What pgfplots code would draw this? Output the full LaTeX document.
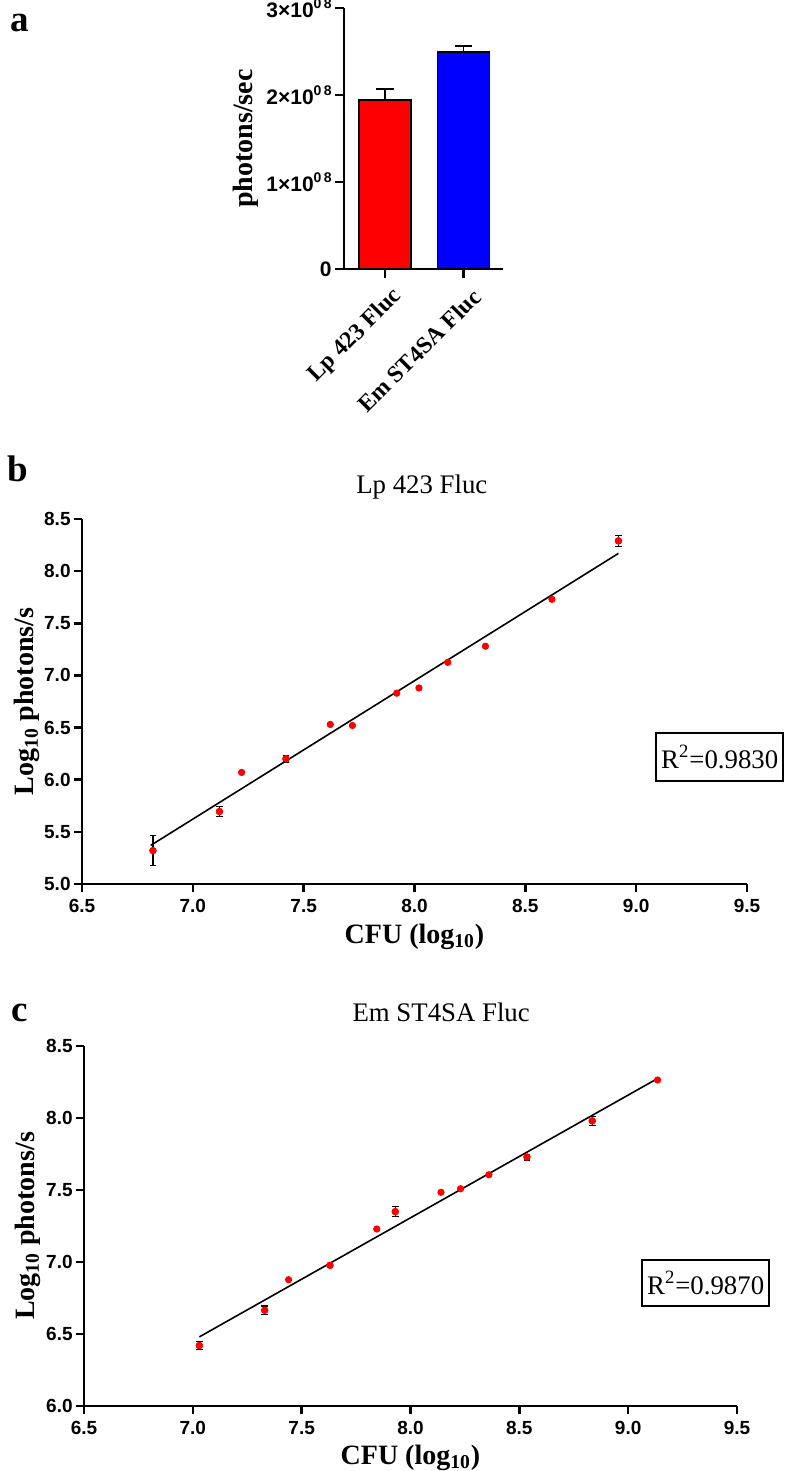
\documentclass[border=0pt]{standalone}
\usepackage{fontspec}
\setmainfont{Liberation Serif}
\newfontfamily\arial{Liberation Sans}
\usepackage{pgfplots}
\pgfplotsset{compat=1.18}
\newcommand{\sci}[1]{#1×10\raisebox{0.85ex}{\fontsize{7}{7}\selectfont 0\,8}}
\newcommand{\labfont}{\bfseries\fontsize{14}{16}\selectfont}
\pgfplotsset{
  sciaxis/.style={
    scale only axis, anchor=south west,
    axis lines=left, axis line style={-, line width=1.3pt},
    xmin=6.5, xmax=9.5,
    xtick={6.5,7.0,7.5,8.0,8.5,9.0,9.5},
    tick align=outside, major tick length=4pt,
    tick style={line width=1.3pt, black},
    tick label style={font=\arial\bfseries\fontsize{9.5}{11}\selectfont},
    xticklabel style={/pgf/number format/fixed, /pgf/number format/fixed zerofill, /pgf/number format/precision=1, /pgf/number format/assume math mode=true},
    yticklabel style={/pgf/number format/fixed, /pgf/number format/fixed zerofill, /pgf/number format/precision=1, /pgf/number format/assume math mode=true, inner sep=1.5pt},
    xlabel={CFU (log\textsubscript{10})},
    ylabel={Log\textsubscript{10} photons/s},
    every axis x label/.style={at={(axis description cs:0.5,-0.145)}, anchor=center, font=\labfont},
    clip=false,
  },
  dots/.style={only marks, mark=*, mark size=1.6pt, color=red, mark options={draw=red, fill=red}},
  ebars/.style={only marks, mark=*, mark size=1.6pt, mark options={draw=red, fill=red}, forget plot,
    error bars/.cd, y dir=both, y explicit,
    error bar style={draw=black, solid, line width=0.6pt},
    error mark options={rotate=90, draw=black, mark size=1.7pt, line width=0.6pt}},
}
\begin{document}
\begin{tikzpicture}
\useasboundingbox (0,0) rectangle (394pt,735.5pt);
% panel labels
\node[font=\bfseries\fontsize{18.5}{20}\selectfont, anchor=base] at (10pt,719.5pt) {a};
\node[font=\bfseries\fontsize{18.5}{20}\selectfont, anchor=base] at (9pt,494.5pt) {b};
\node[font=\bfseries\fontsize{18.5}{20}\selectfont, anchor=base] at (9.75pt,224.5pt) {c};

% ---------- panel a ----------
\begin{axis}[
  at={(172pt,601pt)}, anchor=south west,
  scale only axis, width=79.5pt, height=130.5pt,
  axis lines=left, axis line style={-, line width=1.3pt},
  xmin=-0.52, xmax=1.5, ymin=0, ymax=3e8,
  xtick={0,1}, xticklabels={Lp 423 Fluc, Em ST4SA Fluc},
  ytick={0,1e8,2e8,3e8},
  yticklabels={0, \sci{1}, \sci{2}, \sci{3}},
  scaled y ticks=false,
  tick align=outside, major tick length=4.5pt,
  tick style={line width=1.3pt, black},
  yticklabel style={font=\arial\bfseries\fontsize{10.5}{12}\selectfont, inner sep=1.5pt},
  xticklabel style={font=\bfseries\fontsize{11.8}{13}\selectfont, rotate=45, anchor=east, inner sep=1pt, xshift=0.5pt, yshift=-10pt},
  ylabel={photons/sec},
  every axis y label/.style={at={(axis description cs:-0.616,0.5)}, rotate=90, anchor=center, font=\labfont},
  clip=false,
]
\addplot[ybar, bar width=26pt, bar shift=0pt, fill=red, draw=black, line width=0.8pt,
  error bars/.cd, y dir=plus, y explicit,
  error bar style={line width=0.8pt, draw=black},
  error mark options={rotate=90, mark size=4.3pt, line width=0.8pt, draw=black}]
  coordinates {(0,1.94e8) +- (0,0.13e8)};
\addplot[ybar, bar width=26pt, bar shift=0pt, fill=blue, draw=black, line width=0.8pt,
  error bars/.cd, y dir=plus, y explicit,
  error bar style={line width=0.8pt, draw=black},
  error mark options={rotate=90, mark size=4.3pt, line width=0.8pt, draw=black}]
  coordinates {(1,2.495e8) +- (0,0.07e8)};
\end{axis}

% ---------- panel b ----------
\begin{axis}[sciaxis,
  at={(41pt,293.5pt)}, width=332.5pt, height=182.5pt,
  ymin=5, ymax=8.5, ytick={5.0,5.5,6.0,6.5,7.0,7.5,8.0,8.5},
  every axis y label/.style={at={(axis description cs:-0.083,0.5)}, rotate=90, anchor=center, font=\labfont},
]
\addplot[black, line width=0.8pt] coordinates {(6.81,5.37) (8.92,8.17)};
\addplot[dots] table {
x y
6.82 5.32
7.12 5.695
7.22 6.07
7.42 6.20
7.62 6.53
7.72 6.52
7.92 6.83
8.02 6.88
8.15 7.125
8.32 7.28
8.62 7.73
8.92 8.29
};
\addplot[ebars] table[x=x, y=y, y error=e] {
x y e
6.82 5.32 0.143
7.12 5.695 0.048
7.42 6.20 0.03
8.92 8.29 0.05
};
\node[anchor=base, font=\fontsize{13.4}{15}\selectfont] at (axis description cs:0.511,1.071) {Lp 423 Fluc};
\node[draw, line width=0.8pt, inner xsep=2.5pt, minimum height=24pt, font=\fontsize{13.4}{15}\selectfont] at (axis description cs:0.959,0.348) {R\textsuperscript{2}=0.9830};
\end{axis}

% ---------- panel c ----------
\begin{axis}[sciaxis,
  at={(42pt,32.5pt)}, width=326.5pt, height=180pt,
  ymin=6, ymax=8.5, ytick={6.0,6.5,7.0,7.5,8.0,8.5},
  every axis y label/.style={at={(axis description cs:-0.0858,0.5)}, rotate=90, anchor=center, font=\labfont},
  every axis x label/.style={at={(axis description cs:0.5,-0.144)}, anchor=center, font=\labfont},
]
\addplot[black, line width=0.8pt] coordinates {(7.03,6.48) (9.13,8.27)};
\addplot[dots] table {
x y
7.03 6.42
7.33 6.665
7.44 6.877
7.63 6.977
7.845 7.229
7.93 7.35
8.14 7.484
8.23 7.509
8.36 7.606
8.535 7.729
8.835 7.98
9.135 8.264
};
\addplot[ebars] table[x=x, y=y, y error=e] {
x y e
7.03 6.42 0.03
7.33 6.665 0.03
7.63 6.977 0.015
7.93 7.35 0.035
8.535 7.729 0.02
8.835 7.98 0.03
};
\node[anchor=base, font=\fontsize{13.4}{15}\selectfont] at (axis description cs:0.547,1.067) {Em ST4SA Fluc};
\node[draw, line width=0.8pt, inner xsep=2.5pt, minimum height=23pt, font=\fontsize{13.4}{15}\selectfont] at (axis description cs:0.952,0.342) {R\textsuperscript{2}=0.9870};
\end{axis}
\end{tikzpicture}
\end{document}
